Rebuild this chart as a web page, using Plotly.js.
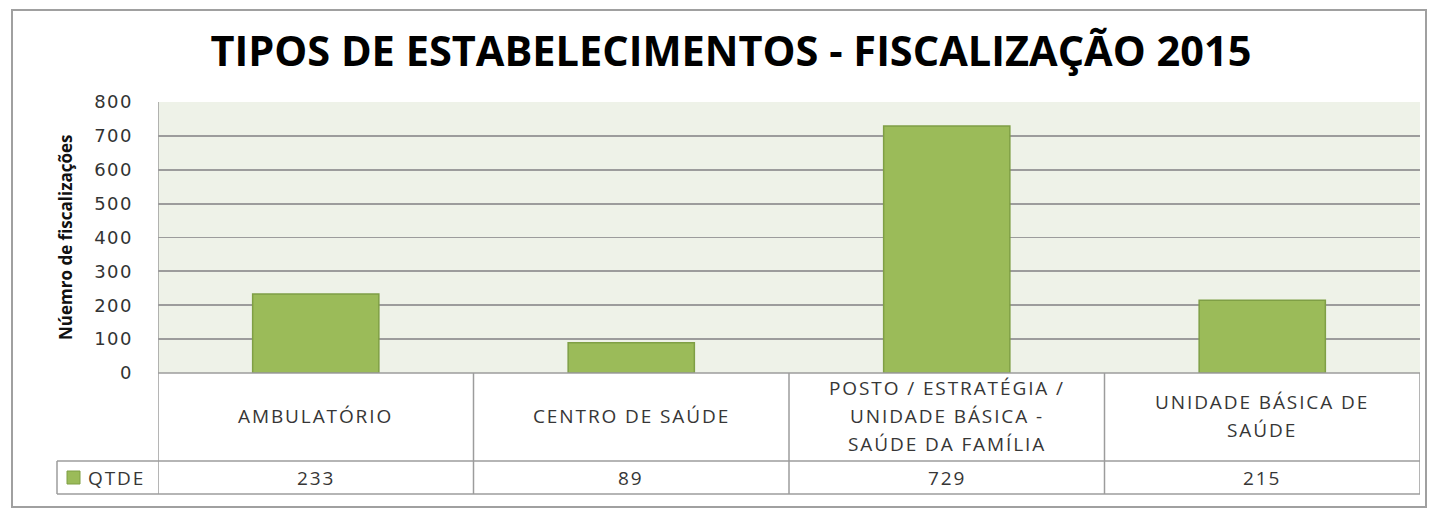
<!DOCTYPE html>
<html>
<head>
<meta charset="utf-8">
<script src="https://cdn.plot.ly/plotly-3.0.1.min.js"></script>
<style>
html,body{margin:0;padding:0;background:#fff;}
#chart{width:1429px;height:517px;}
.annotation-text{letter-spacing:1.9px;}
.ytick text{letter-spacing:1.5px;}
</style>
</head>
<body>
<div id="chart"></div>
<script>
const categories = [
  "AMBULATÓRIO",
  "CENTRO DE SAÚDE",
  "POSTO / ESTRATÉGIA /<br>UNIDADE BÁSICA -<br>SAÚDE DA FAMÍLIA",
  "UNIDADE BÁSICA DE<br>SAÚDE"
];
const values = [233, 89, 729, 215];
const seriesName = "QTDE";
const chartTitle = "TIPOS DE ESTABELECIMENTOS - FISCALIZAÇÃO 2015";
const yTitle = "Núemro de fiscalizações";
const yTicks = [0, 100, 200, 300, 400, 500, 600, 700, 800];

const W = 1429, H = 517;
const mL = 158, mR = 9, mT = 102, mB = 144;
const plotW = W - mL - mR, plotH = H - mT - mB;
const px2x = p => (p - mL) / plotW;
const py2y = p => (H - mB - p) / plotH;

const gridCol = "#9c9c9c";
const textCol = "#363636";
const barCol = "#9bbb59";
const barLine = "#7f9f45";
const idx = categories.map((c, i) => i);

const trace = {
  type: "bar",
  x: idx,
  y: values,
  name: seriesName,
  width: 0.4,
  marker: {color: barCol, line: {color: barLine, width: 1.5}},
  hoverinfo: "skip"
};

const row1Bottom = py2y(461);
const row2Bottom = py2y(494);
const legendLeft = px2x(57);

const shapes = [];
shapes.push({type: "rect", xref: "paper", yref: "paper",
  x0: px2x(12), x1: px2x(1426), y0: py2y(507), y1: py2y(10),
  line: {color: "#a0a0a0", width: 2}, layer: "below"});
for (let i = 0; i <= categories.length; i++) {
  shapes.push({type: "line", xref: "x", yref: "paper",
    x0: i - 0.5, x1: i - 0.5, y0: row2Bottom, y1: (i === 0 ? 1 : 0),
    line: {color: gridCol, width: 1.5}});
}
shapes.push({type: "line", xref: "paper", yref: "paper",
  x0: 0, x1: 1, y0: 0, y1: 0, line: {color: gridCol, width: 1.5}});
shapes.push({type: "line", xref: "paper", yref: "paper",
  x0: legendLeft, x1: 1, y0: row1Bottom, y1: row1Bottom, line: {color: gridCol, width: 1.5}});
shapes.push({type: "line", xref: "paper", yref: "paper",
  x0: legendLeft, x1: 1, y0: row2Bottom, y1: row2Bottom, line: {color: gridCol, width: 1.5}});
shapes.push({type: "line", xref: "paper", yref: "paper",
  x0: legendLeft, x1: legendLeft, y0: row1Bottom, y1: row2Bottom, line: {color: gridCol, width: 1.5}});
shapes.push({type: "rect", xref: "paper", yref: "paper",
  x0: px2x(67), x1: px2x(80), y0: py2y(484), y1: py2y(471),
  fillcolor: barCol, line: {color: barLine, width: 1}});

const annotations = [];
const catRowMid = py2y(416);
const lineGap = 28 / plotH;
const cellFont = {family: "Open Sans", size: 19, color: textCol};
categories.forEach((c, i) => {
  const lines = c.split("<br>");
  lines.forEach((ln, k) => {
    annotations.push({xref: "x", yref: "paper", x: i,
      y: catRowMid + ((lines.length - 1) / 2 - k) * lineGap,
      text: ln, showarrow: false, xanchor: "center", yanchor: "middle",
      font: cellFont});
  });
  annotations.push({xref: "x", yref: "paper", x: i, y: py2y(477.5),
    text: String(values[i]), showarrow: false, xanchor: "center", yanchor: "middle",
    font: cellFont});
});
annotations.push({xref: "paper", yref: "paper", x: px2x(86), y: py2y(477.5),
  text: seriesName, showarrow: false, xanchor: "left", yanchor: "middle",
  font: cellFont});
annotations.push({xref: "paper", yref: "paper", x: px2x(65), y: py2y(237),
  text: '<span style="letter-spacing:0px"><b>' + yTitle + "</b></span>", textangle: -90, showarrow: false,
  xanchor: "center", yanchor: "middle",
  font: {family: "Open Sans", size: 17, color: "#111"}});

const layout = {
  width: W, height: H,
  margin: {l: mL, r: mR, t: mT, b: mB, pad: 0},
  paper_bgcolor: "#ffffff",
  plot_bgcolor: "#eef2e8",
  showlegend: false,
  title: {text: "<b>" + chartTitle + "</b>", x: 0.5115, xanchor: "center", y: 0.9, yanchor: "middle",
    font: {family: "Open Sans", size: 41.5, color: "#000"}},
  xaxis: {type: "linear", range: [-0.5, categories.length - 0.5],
    showticklabels: false, showgrid: false, zeroline: false, showline: false, fixedrange: true},
  yaxis: {range: [0, 800], tickvals: yTicks, ticktext: yTicks.map(String),
    showgrid: true, gridcolor: gridCol, gridwidth: 1.8, zeroline: false, showline: false,
    ticks: "", ticklabelstandoff: 24,
    tickfont: {family: "DejaVu Sans", size: 18, color: "#333"}},
  shapes: shapes,
  annotations: annotations,
  bargap: 0.6
};

Plotly.newPlot("chart", [trace], layout, {displayModeBar: false, staticPlot: true});
</script>
</body>
</html>
